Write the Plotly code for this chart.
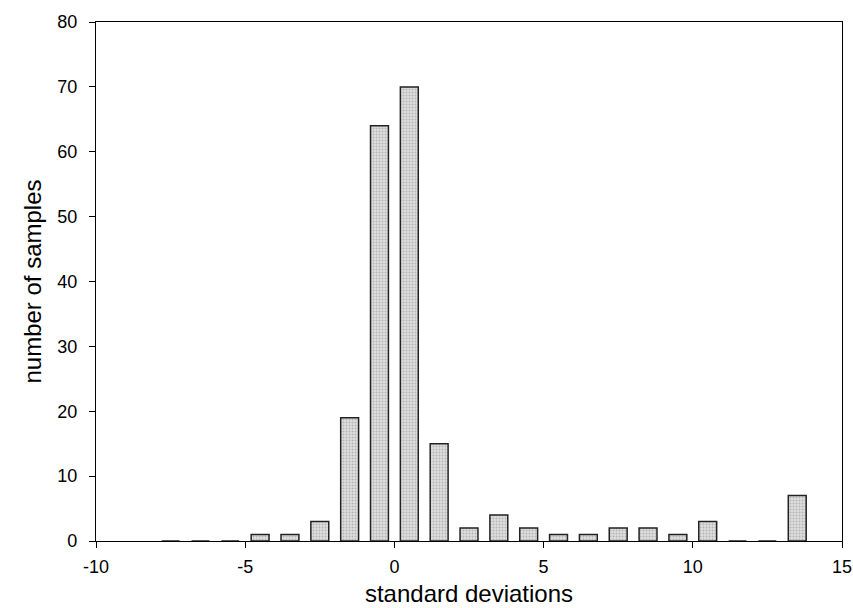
import plotly.graph_objects as go

bin_centers = [-7.5, -6.5, -5.5, -4.5, -3.5, -2.5, -1.5, -0.5, 0.5, 1.5, 2.5, 3.5, 4.5,
               5.5, 6.5, 7.5, 8.5, 9.5, 10.5, 11.5, 12.5, 13.5]
counts = [0, 0, 0, 1, 1, 3, 19, 64, 70, 15, 2, 4, 2, 1, 1, 2, 2, 1, 3, 0, 0, 7]
x_ticks = [-10, -5, 0, 5, 10, 15]
x_tick_labels = ["-10", "-5", "0", "5", "10", "15"]
y_ticks = [0, 10, 20, 30, 40, 50, 60, 70, 80]

fig = go.Figure()
fig.add_trace(go.Bar(
    x=bin_centers, y=counts, width=0.6,
    marker=dict(color="#cfcfcf",
                line=dict(color="#222222", width=1.5),
                pattern=dict(shape=".", size=3, solidity=0.35,
                             fgcolor="#8a8a8a", bgcolor="#dedede")),
))

font_family = "Liberation Sans, Arial, sans-serif"
fig.update_layout(
    width=853, height=608,
    margin=dict(l=96, r=11, t=22, b=67),
    plot_bgcolor="white", paper_bgcolor="white",
    showlegend=False,
    font=dict(family=font_family, color="black", size=18),
    xaxis=dict(range=[-10, 15], tickvals=x_ticks, ticktext=x_tick_labels,
               ticks="outside", ticklen=6, ticklabelstandoff=3,
               tickcolor="black", showline=True, linecolor="black", linewidth=1.2,
               mirror=True, showgrid=False, zeroline=False, automargin=False,
               title=dict(text="standard deviations", font=dict(size=24), standoff=9),
               tickfont=dict(size=18)),
    yaxis=dict(range=[0, 80], tickvals=y_ticks, ticks="outside", ticklen=6,
               ticklabelstandoff=8,
               tickcolor="black", showline=True, linecolor="black", linewidth=1.2,
               mirror=True, showgrid=False, zeroline=False, automargin=False,
               title=dict(text="number of samples", font=dict(size=24), standoff=8),
               tickfont=dict(size=18)),
)
fig.write_html("out.html", config={"displayModeBar": False},
               post_script="document.body.style.margin='0';document.body.style.overflow='hidden';")
